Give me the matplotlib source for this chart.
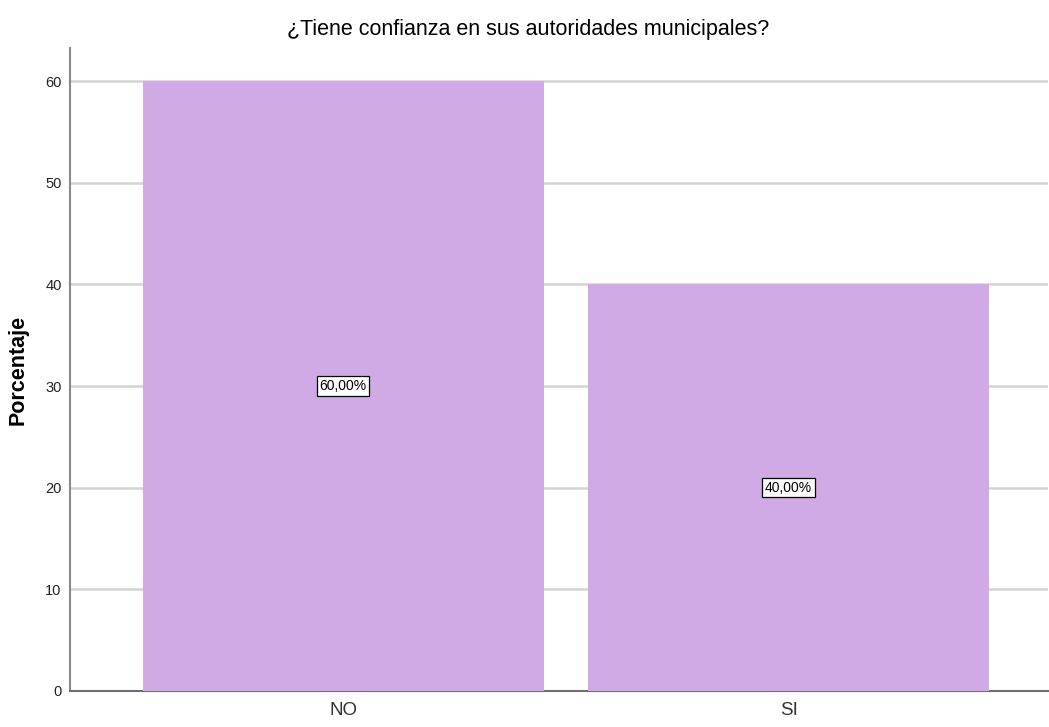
import matplotlib
matplotlib.use("Agg")
import matplotlib.pyplot as plt

categories = ["NO", "SI"]
percentages = [60.0, 40.0]
labels = ["60,00%", "40,00%"]
yticks = [0, 10, 20, 30, 40, 50, 60]

narrow = ['Liberation Sans Narrow', 'Liberation Sans', 'DejaVu Sans']
regular = ['Liberation Sans', 'Arial', 'DejaVu Sans']

fig = plt.figure(figsize=(10.49, 7.27), dpi=100)
ax = fig.add_axes([70 / 1049, 36 / 727, 978 / 1049, 643 / 727])

x = list(range(len(categories)))
ax.bar(x, percentages, width=0.9, color='#d0aae4', zorder=3)

for xi, v, lab in zip(x, percentages, labels):
    ax.text(xi, v / 2, lab, ha='center', va='center', fontsize=10,
            family=narrow, zorder=4,
            bbox=dict(boxstyle='square,pad=0.2', facecolor='white',
                      edgecolor='black', linewidth=0.9))

ax.set_xlim(-0.613, 1.582)
ax.set_ylim(0, 63.25)
ax.set_xticks(x)
ax.set_xticklabels(categories, family=narrow, fontsize=13.5, color='#333333')
ax.set_yticks(yticks)
ax.set_yticklabels([str(t) for t in yticks], family=narrow, fontsize=10.5, color='#222222')
ax.tick_params(axis='both', length=0, pad=6)
ax.tick_params(axis='x', pad=8)

ax.yaxis.grid(True, color='#d4d4d4', linewidth=1.8, zorder=0)
ax.set_axisbelow(True)

for s in ['top', 'right']:
    ax.spines[s].set_visible(False)
ax.spines['left'].set_color('#8a8a8a')
ax.spines['bottom'].set_color('#6e6e6e')
ax.spines['left'].set_linewidth(1.5)
ax.spines['bottom'].set_linewidth(1.5)

ax.set_ylabel("Porcentaje", family=regular, fontsize=15.5, fontweight='bold', labelpad=12)
fig.text(528 / 1049, 1 - 30 / 727, "¿Tiene confianza en sus autoridades municipales?",
         ha='center', va='center', family=narrow, fontsize=15.5)

fig.savefig("out.png", dpi=100)
